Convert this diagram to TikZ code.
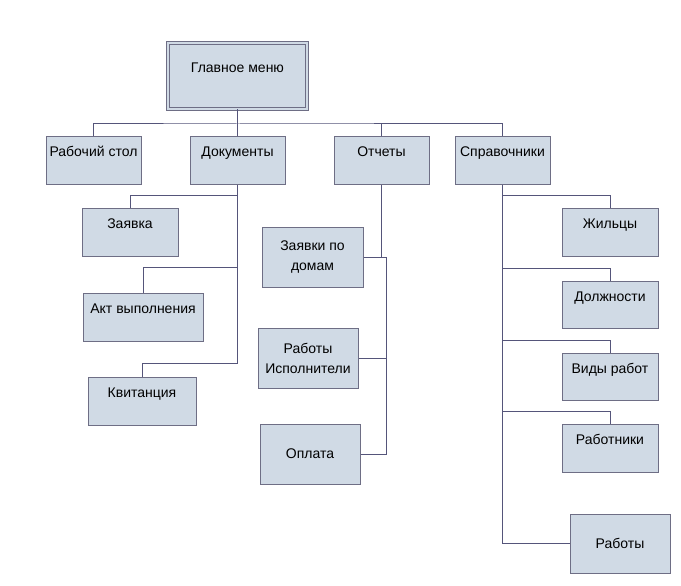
\documentclass[tikz,border=0pt]{standalone}
\usepackage{fontspec}
\setmainfont{Liberation Sans}
\usepackage{tikz}
\usetikzlibrary{positioning}
\definecolor{boxfill}{HTML}{D0DAE5}
\definecolor{boxline}{HTML}{6E6E85}
\definecolor{wireline}{HTML}{55557A}

\begin{document}
\begin{tikzpicture}[x=1pt,y=-1pt,
   box/.style={draw=boxline,fill=boxfill,line width=1pt,inner xsep=2pt,inner ysep=3pt,
      font=\fontsize{14}{20}\selectfont,minimum height=47pt},
   topbox/.style={box,text height=17pt,text depth=24pt},
   tallbox/.style={box,minimum height=60pt,align=center},
   wire/.style={draw=wireline,line width=1pt}]
   \useasboundingbox (0,0) rectangle (681,586);
   % main menu
   \node[box,double=boxfill,double distance=2pt,minimum width=139pt,minimum height=66pt,
         text height=27pt,text depth=33pt] (menu) at (237.5,76) {Главное меню};
   % first level
   \node[topbox,minimum width=95pt] (desk)  at (93.5,160.5)  {Рабочий стол};
   \node[topbox,minimum width=95pt] (docs)  at (237.5,160.5) {Документы};
   \node[topbox,minimum width=95pt] (rep)   at (381.5,160.5) {Отчеты};
   \node[topbox,minimum width=95pt] (refs)  at (502.5,160.5) {Справочники};
   % documents
   \node[topbox,minimum width=96pt,minimum height=48pt]  (req)  at (130,232) {Заявка};
   \node[topbox,minimum width=120pt,minimum height=48pt] (act)  at (143,317) {Акт выполнения};
   \node[topbox,minimum width=108pt,minimum height=48pt] (bill) at (142,401) {Квитанция};
   % reports
   \node[tallbox,minimum width=101pt] (rhouse) at (312.5,257) {Заявки по\\домам};
   \node[tallbox,minimum width=100pt] (rwork)  at (308,358)   {Работы\\Исполнители};
   \node[tallbox,minimum width=100pt] (rpay)   at (310,454)   {Оплата};
   % reference books
   \node[topbox,minimum width=96pt,minimum height=48pt] (tenants) at (610,232)   {Жильцы};
   \node[topbox,minimum width=96pt] (posts)   at (610,304.5) {Должности};
   \node[topbox,minimum width=96pt] (kinds)   at (610,376.5) {Виды работ};
   \node[topbox,minimum width=96pt,minimum height=48pt] (workers) at (610,448)   {Работники};
   \node[tallbox,minimum width=100pt,minimum height=59pt] (works) at (620,543.5) {Работы};

   \coordinate (bus) at (237.5,124);
   \coordinate (rtrunk) at (386,257);
   \coordinate (dend) at (237.5,363);

   \draw[wire] (menu.south) -- (bus);
   \draw[wire] (desk.north) |- (bus) -| (refs.north);
   \draw[wire] (rep.north) -- (rep.north |- bus);
   \draw[wire] (docs.north) -- (docs.north |- bus);

   \draw[wire] (docs.south) -- (dend) -| (bill.north);
   \draw[wire] (req.north) -- ++(0,-12) -| (docs.south);
   \draw[wire] (act.north) -- ++(0,-25) -| (docs.south);

   \draw[wire] (rep.south) |- (rhouse.east);
   \draw[wire] (rhouse.east) -- (rtrunk) |- (rpay.east);
   \draw[wire] (rwork.east) -- (rwork.east -| rtrunk);

   \draw[wire] (refs.south) |- (works.west);
   \draw[wire] (tenants.north) -- ++(0,-12) -| (refs.south);
   \draw[wire] (posts.north) -- ++(0,-12) -| (refs.south);
   \draw[wire] (kinds.north) -- ++(0,-12) -| (refs.south);
   \draw[wire] (workers.north) -- ++(0,-12) -| (refs.south);
\end{tikzpicture}
\end{document}
